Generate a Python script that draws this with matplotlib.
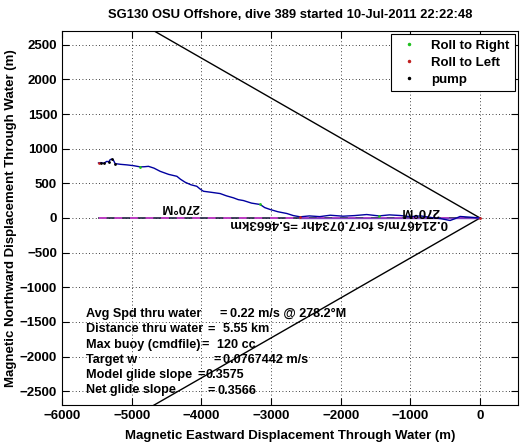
import numpy as np
import matplotlib
matplotlib.use('Agg')
import matplotlib.pyplot as plt

plt.rcParams['font.family'] = ['Liberation Sans', 'DejaVu Sans']
plt.rcParams['font.weight'] = 'bold'

title = 'SG130 OSU Offshore, dive 389 started 10-Jul-2011 22:22:48'

# glider track through water (m)
east = [0, -120, -287, -360, -430, -560, -674, -850, -1000, -1148, -1300,
        -1450, -1626, -1800, -1966, -2150, -2300, -2450, -2582, -2680, -2773,
        -2900, -3013, -3090, -3156, -3280, -3396, -3470, -3539, -3640, -3730,
        -3850, -3970, -4020, -4065, -4150, -4232, -4300, -4351, -4470, -4591,
        -4680, -4759, -4820, -4878, -4970, -5069, -5160, -5237, -5261, -5285,
        -5308, -5330, -5356, -5400, -5440, -5476]
north = [0, 10, 22, -10, -36, -10, 3, 30, 20, 36, 45,
         30, 50, 35, 26, 40, 20, 30, 17, 35, 65,
         90, 123, 150, 195, 215, 252, 265, 291, 320, 353,
         370, 386, 420, 458, 480, 516, 560, 602, 630, 674,
         720, 746, 740, 738, 755, 767, 775, 785, 833, 850,
         843, 810, 818, 790, 800, 795]

# markers
roll_right_e = [-1450, -3156, -4878]
roll_right_n = [30, 195, 738]
roll_left_e = [0, -2582, -5476]
roll_left_n = [0, 17, 795]
pump_e = [-5237, -5285, -5330, -5400, -5440]
pump_n = [785, 850, 810, 790, 800]

# heading / current lines
dist_km = 5.4663
heading_lbl = '270°M'
current_lbl = '0.21467m/s for7.0734hr =5.4663km'
wedge_half_deg = 30
wedge_len = 7000

info_lbl = ['Avg Spd thru water', 'Distance thru water', 'Max buoy (cmdfile)',
            'Target w', 'Model glide slope', 'Net glide slope']
info_val = ['0.22 m/s @ 278.2°M', '5.55 km', '120 cc',
            '0.0767442 m/s', '0.3575', '0.3566']
info_eq_px = [219, 208, 202, 214, 197, 208]
info_val_px = [230, 223, 217, 223, 206, 217]

W, H = 527, 442
fig = plt.figure(figsize=(W / 100, H / 100), dpi=100)
ax = fig.add_axes([62 / W, 37 / H, 456 / W, 374 / H])

# wedge lines
a = np.deg2rad(wedge_half_deg)
for s in (1, -1):
    ax.plot([0, -wedge_len * np.cos(a)], [0, s * wedge_len * np.sin(a)],
            color='k', lw=1)

# straight line through water
ax.plot([0, -dist_km * 1000], [0, 0], color='#202040', lw=1.2)
ax.plot([0, -dist_km * 1000], [0, 0], color='#e040e0', lw=1.4,
        ls=(0, (4, 4)), alpha=0.8)
ax.plot([0, -2600], [0, 0], color='#8040c0', lw=1)

ax.plot(east, north, color='#0000a0', lw=1)

ax.plot(roll_right_e, roll_right_n, '.', color='#20c020', ms=2,
        label='Roll to Right')
ax.plot(roll_left_e, roll_left_n, '.', color='#c02020', ms=2,
        label='Roll to Left')
ax.plot(pump_e, pump_n, '.', color='k', ms=2, label='pump')

ax.text(-861, 108, heading_lbl, rotation=180, ha='center', va='center',
        fontsize=9.5, fontweight='bold')
ax.text(-4304, 166, heading_lbl, rotation=180, ha='center', va='center',
        fontsize=9.5, fontweight='bold')
ax.text(-2023, -65, current_lbl, rotation=180, ha='center', va='center',
        fontsize=9.5, fontweight='bold')

for i, (l, v) in enumerate(zip(info_lbl, info_val)):
    yy = (405 - 314 - i * 15.3) / 374
    ax.text((86 - 62) / 456, yy, l, transform=ax.transAxes, ha='left',
            va='center', fontsize=9.1, fontweight='bold')
    ax.text((info_eq_px[i] - 62) / 456, yy, '=', transform=ax.transAxes,
            ha='left', va='center', fontsize=9.1, fontweight='bold')
    ax.text((info_val_px[i] - 62) / 456, yy, v, transform=ax.transAxes,
            ha='left', va='center', fontsize=9.1, fontweight='bold')

ax.set_xlim(-6000, 545)
ax.set_ylim(-2700, 2700)
ax.set_xticks(np.arange(-6000, 1, 1000))
ax.set_yticks(np.arange(-2500, 2501, 500))
ax.grid(True, ls=(0, (1, 3)), color='k', lw=0.6)
ax.tick_params(direction='in', top=True, right=True, labelsize=9.5,
               length=5)
for lab in ax.get_xticklabels() + ax.get_yticklabels():
    lab.set_fontweight('bold')

ax.set_title(title, fontsize=9.4, fontweight='bold', pad=9)
ax.set_xlabel('Magnetic Eastward Displacement Through Water (m)',
              fontsize=9.5, fontweight='bold', labelpad=6)
ax.set_ylabel('Magnetic Northward Displacement Through Water (m)',
              fontsize=9.5, fontweight='bold', labelpad=2)

leg = ax.legend(loc='upper right', fontsize=9.5, handlelength=1.8,
                borderaxespad=0.2, fancybox=False, edgecolor='k',
                framealpha=1, markerscale=1.5, labelspacing=0.35,
                borderpad=0.45)
leg.get_frame().set_linewidth(0.8)

fig.savefig('out.png', dpi=100)
